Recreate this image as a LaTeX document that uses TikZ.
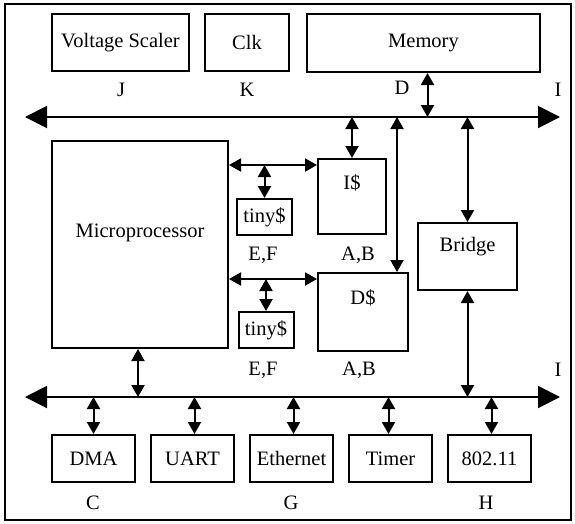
\documentclass[tikz,border=0pt]{standalone}
\usepackage{fontspec}
\setmainfont{Liberation Serif}
\usetikzlibrary{arrows.meta, positioning}

\begin{document}
\begin{tikzpicture}[
    x=1pt, y=-1pt,
    font=\fontsize{20.5}{24}\selectfont,
    node distance=14pt,
    >={Triangle[length=12pt, width=13pt]},
    box/.style={rectangle, draw, line width=2pt, inner sep=0pt, align=center},
    periph/.style={box, minimum width=83pt, minimum height=47pt},
    tiny/.style={box, minimum width=55pt, minimum height=36pt},
    tag/.style={inner sep=0pt},
    link/.style={<->, line width=2pt},
    bus/.style={{Triangle[length=22pt, width=22pt]}-{Triangle[length=22pt, width=22pt]}, line width=2pt}
]
    \useasboundingbox (0,0) rectangle (575,523);
    \draw[line width=1.2pt] (5,4) rectangle (571,520);

    % top row
    \node[box, minimum width=137pt, minimum height=57pt] (vscal) at (120.5,42.5) {Voltage Scaler};
    \node[box, minimum width=84pt, minimum height=57pt] (clk) at (247,42.5) {Clk};
    \node[box, minimum width=233pt, minimum height=58pt] (mem) at (423.5,43) {Memory};
    \node[tag] (labJ) at (121,90) {J};
    \node[tag] (labK) at (247,90) {K};
    \node[tag] (labD) at (402,88) {D};
    \node[tag] (labI1) at (558,90) {I};

    % core
    \node[box, minimum width=176pt, minimum height=207pt, label={[yshift=12pt]center:Microprocessor}] (cpu) at (140,244.5) {};
    \node[box, minimum width=68pt, minimum height=75pt, label={[yshift=13.5pt]center:I\$}] (icache) at (352,196.5) {};
    \node[box, minimum width=90pt, minimum height=78pt, label={[yshift=14pt]center:D\$}] (dcache) at (363,312) {};
    \node[tiny] (tinyi) at (264.5,217) {tiny\$};
    \node[tiny] (tinyd) at (266,330) {tiny\$};
    \node[box, minimum width=99pt, minimum height=67pt, label={[yshift=9.5pt]center:Bridge}] (bridge) at (467.5,256.5) {};
    \node[tag] (labEF1) at (263,255) {E,F};
    \node[tag] (labAB1) at (358,255) {A,B};
    \node[tag] (labEF2) at (263,370) {E,F};
    \node[tag] (labAB2) at (359,370) {A,B};
    \node[tag] (labI2) at (558,370) {I};

    % peripherals
    \node[periph] (dma) at (93.5,458.5) {DMA};
    \node[periph, right=of dma] (uart) {UART};
    \node[periph, right=of uart] (eth) {Ethernet};
    \node[periph, right=of eth] (timer) {Timer};
    \node[periph, right=of timer] (wifi) {802.11};
    \node[tag] (labC) at (93,503) {C};
    \node[tag] (labG) at (291,503) {G};
    \node[tag] (labH) at (486,503) {H};

    % buses
    \coordinate (tbL) at (25,117);
    \coordinate (tbR) at (560,117);
    \coordinate (bbL) at (25,397);
    \coordinate (bbR) at (560,397);
    \coordinate (dtap) at (397,117);
    \coordinate (ihor) at ([yshift=-7pt]icache.north west);
    \coordinate (dhor) at ([yshift=-7pt]dcache.north west);
    \draw[bus] (tbL) -- (tbR);
    \draw[bus] (bbL) -- (bbR);

    \draw[link] ([xshift=4pt]mem.south) -- ([xshift=4pt]mem.south |- tbL);
    \draw[link] (icache.north |- tbL) -- (icache.north);
    \draw[link] (dtap) -- (dtap |- dcache.north);
    \draw[link] (bridge.north |- tbL) -- (bridge.north);
    \draw[link] (bridge.south) -- (bridge.south |- bbL);
    \draw[link] (cpu.east |- ihor) -- (ihor);
    \draw[link] (cpu.east |- dhor) -- (dhor);
    \draw[link] (tinyi.north |- ihor) -- (tinyi.north);
    \draw[link] (tinyd.north |- dhor) -- (tinyd.north);
    \draw[link] ([xshift=-2pt]cpu.south) -- ([xshift=-2pt]cpu.south |- bbL);
    \draw[link] (dma.north |- bbL) -- (dma.north);
    \draw[link] ([xshift=2pt]uart.north |- bbL) -- ([xshift=2pt]uart.north);
    \draw[link] ([xshift=2pt]eth.north |- bbL) -- ([xshift=2pt]eth.north);
    \draw[link] ([xshift=-2pt]timer.north |- bbL) -- ([xshift=-2pt]timer.north);
    \draw[link] ([xshift=2pt]wifi.north |- bbL) -- ([xshift=2pt]wifi.north);
\end{tikzpicture}
\end{document}
